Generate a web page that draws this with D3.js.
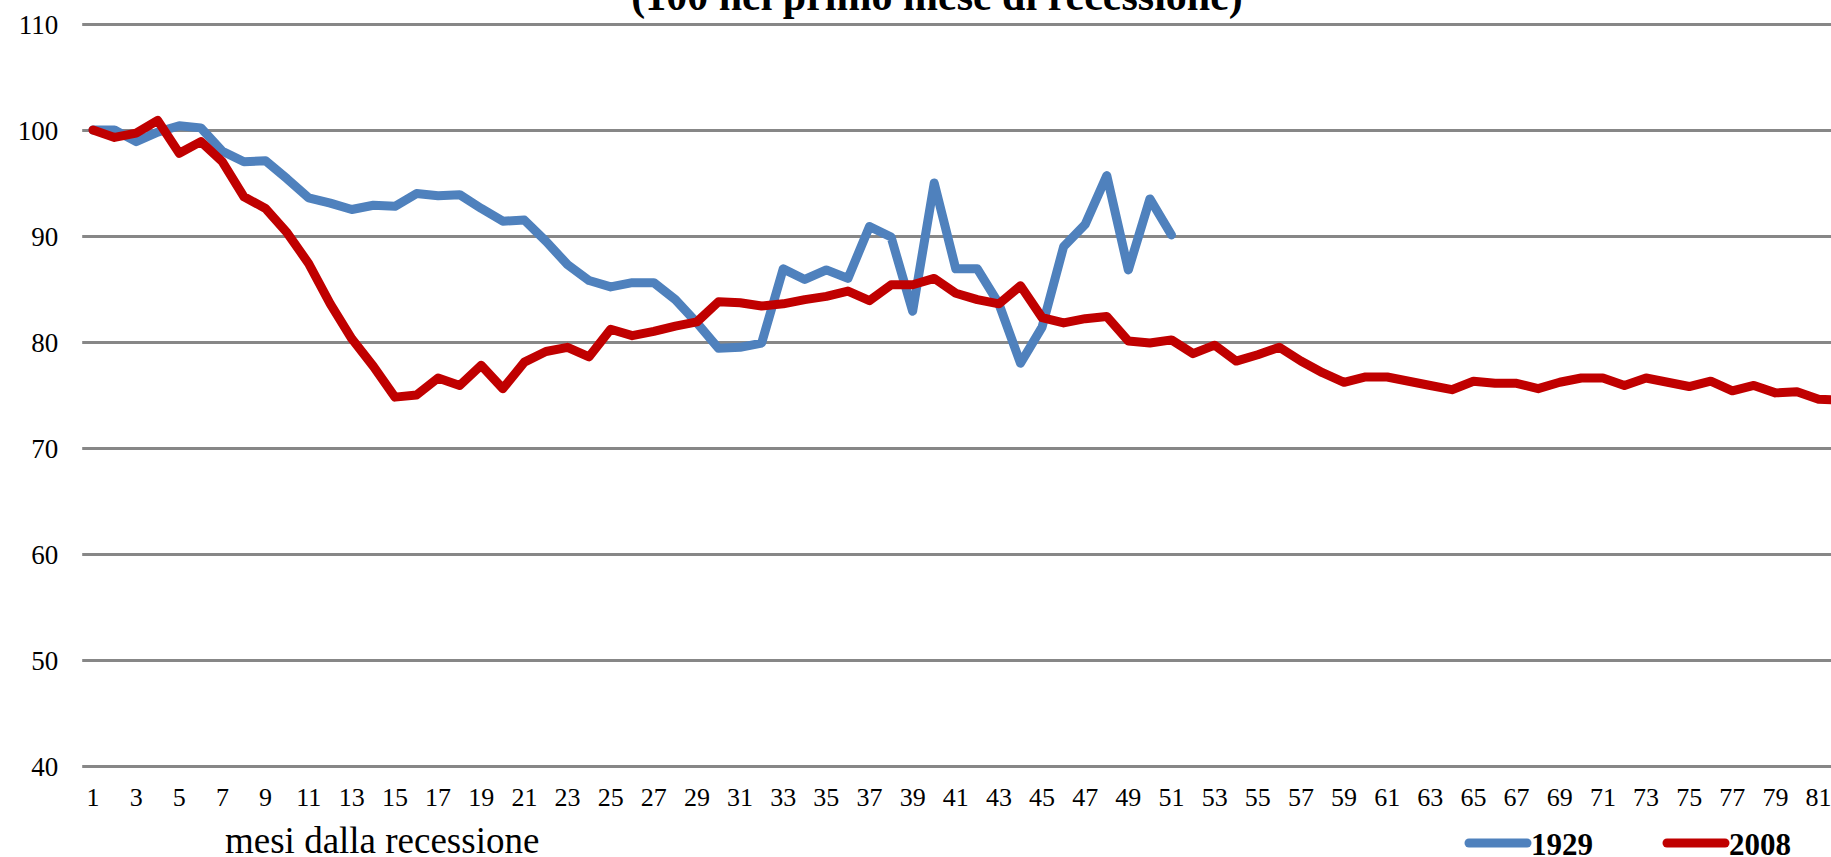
<!DOCTYPE html>
<html>
<head>
<meta charset="utf-8">
<script src="https://cdn.jsdelivr.net/npm/d3@7"></script>
<style>
	body { margin: 0; background: #fff; }
	svg { display: block; font-family: "Liberation Serif", "Times New Roman", serif; }
</style>
</head>
<body>
<script>
// _____________ data
var months = [1,2,3,4,5,6,7,8,9,10,11,12,13,14,15,16,17,18,19,20,
	21,22,23,24,25,26,27,28,29,30,31,32,33,34,35,36,37,38,39,40,
	41,42,43,44,45,46,47,48,49,50,51,52,53,54,55,56,57,58,59,60,
	61,62,63,64,65,66,67,68,69,70,71,72,73,74,75,76,77,78,79,80,81,82]

var xTickLabels = [1,3,5,7,9,11,13,15,17,19,21,23,25,27,29,31,33,35,37,39,
	41,43,45,47,49,51,53,55,57,59,61,63,65,67,69,71,73,75,77,79,81]

var yTickLabels = [40, 50, 60, 70, 80, 90, 100, 110]

// 1929: months 1..51
var values1929 = [100, 100, 98.9, 99.8, 100.4, 100.2, 98.0, 97.0, 97.1, 95.4,
	93.6, 93.1, 92.5, 92.9, 92.8, 94.0, 93.8, 93.9, 92.6, 91.4,
	91.5, 89.5, 87.3, 85.8, 85.2, 85.6, 85.6, 84.0, 81.8, 79.4,
	79.5, 79.9, 86.9, 85.9, 86.8, 86.0, 90.9, 89.9, 82.9, 95.0,
	86.9, 86.9, 83.6, 78.0, 81.4, 89.0, 91.1, 95.7, 86.8, 93.5,
	90.1]

// 2008: months 1..82
var values2008 = [100, 99.3, 99.7, 100.9, 97.8, 98.9, 97.0, 93.7, 92.6, 90.3,
	87.4, 83.6, 80.3, 77.7, 74.8, 75.0, 76.6, 75.9, 77.8, 75.6,
	78.1, 79.1, 79.5, 78.6, 81.2, 80.6, 81.0, 81.5, 81.9, 83.8,
	83.7, 83.4, 83.6, 84.0, 84.3, 84.8, 83.9, 85.4, 85.4, 86.0,
	84.6, 84.0, 83.6, 85.3, 82.3, 81.8, 82.2, 82.4, 80.1, 79.9,
	80.2, 78.9, 79.7, 78.2, 78.8, 79.5, 78.2, 77.1, 76.2, 76.7,
	76.7, 76.3, 75.9, 75.5, 76.3, 76.1, 76.1, 75.6, 76.2, 76.6,
	76.6, 75.9, 76.6, 76.2, 75.8, 76.3, 75.4, 75.9, 75.2, 75.3,
	74.6, 74.5]

var seriesNames = ["1929", "2008"]
var seriesColors = ["#4f81bd", "#c00000"]

var titleText = "(100 nel primo mese di recessione)"
var xAxisTitle = "mesi dalla recessione"

// _____________ layout
var width = 1831, height = 857
var plotLeft = 82.2, plotTop = 24, plotBottom = 766
var band = 21.57

var svg = d3.select("body")
	.append("svg")
		.attr("width", width)
		.attr("height", height)

var x = d3.scaleBand()
	.domain(months)
	.range([plotLeft, plotLeft + months.length * band])
	.padding(0)

var y = d3.scaleLinear()
	.domain([40, 110])
	.range([plotBottom, plotTop])

var cx = function (m) { return x(m) + x.bandwidth() / 2 }

// _______________________ grid + y labels
var yAxis = svg.append("g")
	.attr("transform", "translate(" + plotLeft + ",0)")
	.call(d3.axisLeft(y)
		.tickValues(yTickLabels)
		.tickSize(-(width - plotLeft))
		.tickPadding(24))

yAxis.select(".domain").remove()
yAxis.selectAll("line")
	.attr("stroke", "#878787")
	.attr("stroke-width", 3)
yAxis.selectAll("text")
	.attr("fill", "#000")
	.attr("dy", "0.36em")
	.style("font-size", "27px")
	.style("font-family", "'Liberation Serif', serif")

// _______________________ x labels
var xAxis = svg.append("g")
	.attr("transform", "translate(0," + plotBottom + ")")
	.call(d3.axisBottom(x)
		.tickValues(xTickLabels)
		.tickSize(0)
		.tickPadding(22))

xAxis.select(".domain").remove()
xAxis.selectAll("text")
	.attr("fill", "#000")
	.style("font-size", "26px")
	.style("font-family", "'Liberation Serif', serif")

// _______________________ lines
var line = d3.line()
	.x(function (d) { return cx(d.m) })
	.y(function (d) { return y(d.v) })

var seriesData = [values1929, values2008].map(function (vals, k) {
	return {
		name: seriesNames[k],
		color: seriesColors[k],
		points: vals.map(function (v, i) { return { m: months[i], v: v } })
	}
})

svg.append("g")
	.selectAll("path")
	.data(seriesData)
	.enter()
	.append("path")
		.attr("d", function (d) { return line(d.points) })
		.attr("fill", "none")
		.attr("stroke", function (d) { return d.color })
		.attr("stroke-width", 9)
		.attr("stroke-linejoin", "round")
		.attr("stroke-linecap", "round")

// _______________________ title (cut at top)
svg.append("text")
	.attr("x", 937)
	.attr("y", 10)
	.attr("text-anchor", "middle")
	.style("font-size", "42px")
	.style("font-weight", "bold")
	.text(titleText)

// _______________________ x axis title
svg.append("text")
	.attr("x", 225)
	.attr("y", 853)
	.style("font-size", "37px")
	.text(xAxisTitle)

// _______________________ legend
var legendX = [1469, 1667]
var legend = svg.append("g")
	.selectAll("g")
	.data(seriesData)
	.enter()
	.append("g")
		.attr("transform", function (d, i) { return "translate(" + legendX[i] + ",843)" })

legend.append("line")
	.attr("x1", 0).attr("x2", 58)
	.attr("y1", 0).attr("y2", 0)
	.attr("stroke", function (d) { return d.color })
	.attr("stroke-width", 9)
	.attr("stroke-linecap", "round")

legend.append("text")
	.attr("x", 62)
	.attr("y", 12)
	.style("font-size", "31px")
	.style("font-weight", "bold")
	.text(function (d) { return d.name })
</script>
</body>
</html>
